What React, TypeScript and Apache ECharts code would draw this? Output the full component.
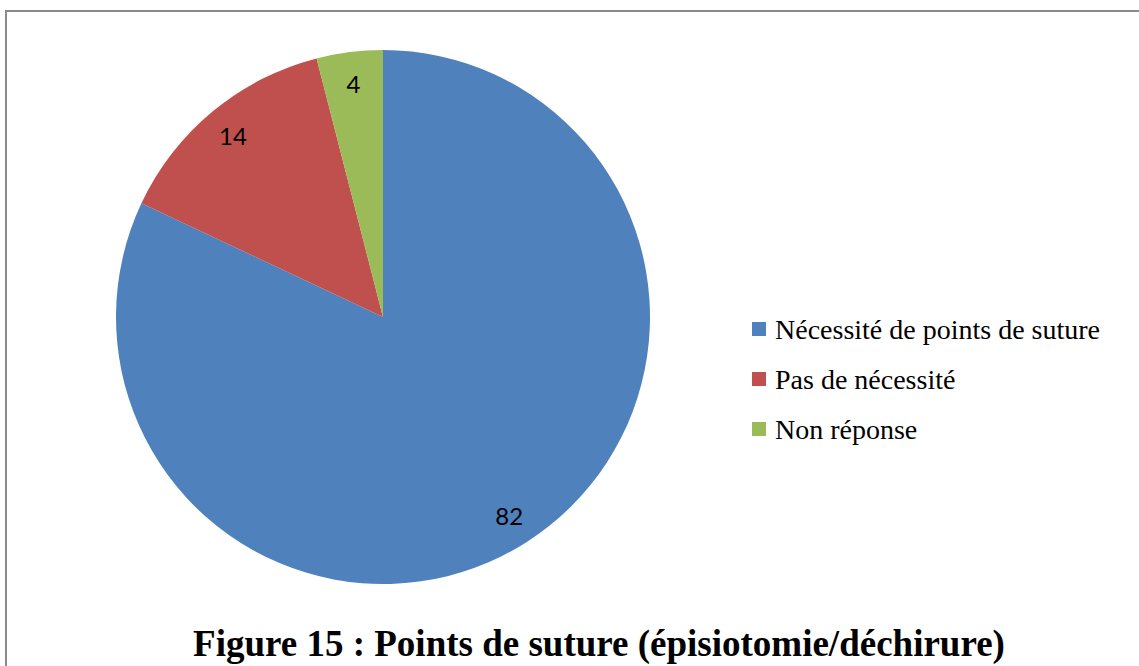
import React, { useEffect, useRef } from "react";
import * as echarts from "echarts";

const categories = ["Nécessité de points de suture", "Pas de nécessité", "Non réponse"];
const values = [82, 14, 4];
const colors = ["#4F81BD", "#C0504D", "#9BBB59"];
const titleText = "Figure 15 : Points de suture (épisiotomie/déchirure)";

export default function App() {
  const ref = useRef<HTMLDivElement>(null);
  useEffect(() => {
    document.body.style.margin = "0";
    const chart = echarts.init(ref.current!, null, { renderer: "svg" });
    const data = categories.map((name, i) => ({ name, value: values[i], itemStyle: { color: colors[i] } }));
    chart.setOption({
      animation: false,
      backgroundColor: "#ffffff",
      legend: {
        orient: "vertical",
        left: 752,
        top: 315,
        padding: 0,
        icon: "rect",
        itemWidth: 14,
        itemHeight: 14,
        itemGap: 22,
        data: categories,
        textStyle: {
          fontFamily: "Liberation Serif",
          fontSize: 28,
          lineHeight: 26,
          color: "#000",
          padding: [0, 0, 0, 4],
        },
      },
      graphic: [
        {
          type: "rect",
          shape: { x: 6, y: 11, width: 1300, height: 800 },
          style: { fill: "none", stroke: "#8a8a8a", lineWidth: 2 },
          silent: true,
        },
        {
          type: "text",
          x: 599,
          y: 643,
          style: {
            text: titleText,
            fontFamily: "Liberation Serif",
            fontWeight: "bold",
            fontSize: 37,
            fill: "#000",
            align: "center",
            verticalAlign: "middle",
          },
        },
      ],
      series: [
        {
          type: "pie",
          center: [383, 317],
          radius: [0, 267],
          startAngle: 90,
          clockwise: true,
          label: { show: false },
          labelLine: { show: false },
          emphasis: { disabled: true },
          data,
        },
        {
          type: "pie",
          center: [383, 317],
          radius: [198, 267],
          startAngle: 90,
          clockwise: true,
          silent: true,
          itemStyle: { color: "rgba(0,0,0,0)" },
          label: {
            show: true,
            position: "inside",
            formatter: "{c}",
            fontFamily: "Lato",
            fontSize: 24,
            color: "#000",
          },
          labelLine: { show: false },
          emphasis: { disabled: true },
          data: categories.map((name, i) => ({ name, value: values[i], itemStyle: { color: "rgba(0,0,0,0)" } })),
        },
      ],
    });
    return () => chart.dispose();
  }, []);
  return <div ref={ref} style={{ width: 1139, height: 666 }} />;
}
